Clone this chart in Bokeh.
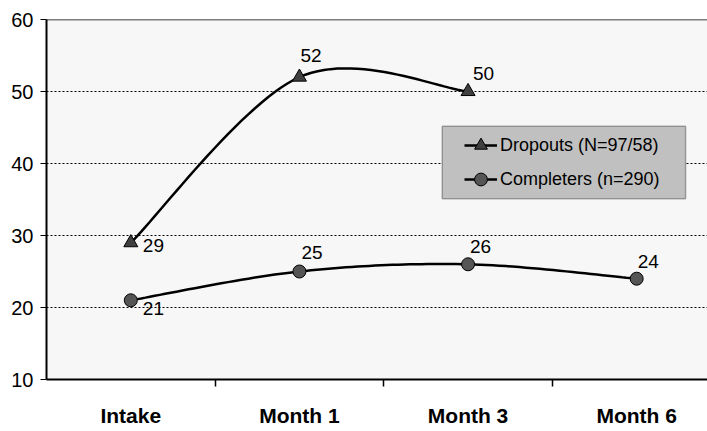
import numpy as np
from bokeh.plotting import figure
from bokeh.models import (FixedTicker, Range1d, Legend, LegendItem, Span,
                          BoxAnnotation, ColumnDataSource)
from bokeh.core.properties import value
from bokeh.embed import file_html
from bokeh.resources import INLINE

# ---- data ----
categories = ["Intake", "Month 1", "Month 3", "Month 6"]
dropouts = [29, 52, 50]
completers = [21, 25, 26, 24]
y_ticks = [10, 20, 30, 40, 50, 60]
dropouts_name = "Dropouts (N=97/58)"
completers_name = "Completers (n=290)"

# label offsets in screen pixels (layout, not data)
drop_dx = [12, 1, 5]
drop_dy = [3, -22, -18]
comp_dx = [12, 2, 2, 1]
comp_dy = [8, -19, -18, -17]

FONT = "Liberation Sans"


def smooth(ys, steps=30):
    """Excel-like Catmull-Rom smoothing between the given points."""
    y = np.asarray(ys, dtype=float)
    x = np.arange(len(y), dtype=float)
    n = len(y)
    mx = np.array([(x[min(i + 1, n - 1)] - x[max(i - 1, 0)]) / 2 for i in range(n)])
    my = np.array([(y[min(i + 1, n - 1)] - y[max(i - 1, 0)]) / 2 for i in range(n)])
    px, py = [], []
    t = np.linspace(0, 1, steps)
    h00 = 2 * t**3 - 3 * t**2 + 1
    h10 = t**3 - 2 * t**2 + t
    h01 = -2 * t**3 + 3 * t**2
    h11 = t**3 - t**2
    for i in range(n - 1):
        px.extend(h00 * x[i] + h10 * mx[i] + h01 * x[i + 1] + h11 * mx[i + 1])
        py.extend(h00 * y[i] + h10 * my[i] + h01 * y[i + 1] + h11 * my[i + 1])
    return px, py


p = figure(width=707, height=431,
           x_range=Range1d(-0.5, 3.42), y_range=Range1d(y_ticks[0], y_ticks[-1]),
           output_backend="svg", toolbar_location=None,
           min_border_left=46, min_border_right=0, min_border_top=19,
           min_border_bottom=52)
p.background_fill_color = "#F7F7F7"
p.border_fill_color = "white"
p.outline_line_color = None

# grid
p.xgrid.visible = False
p.ygrid.ticker = FixedTicker(ticks=y_ticks[1:-1])
p.ygrid.grid_line_color = "black"
p.ygrid.grid_line_dash = "2 2"
p.ygrid.grid_line_width = 1
p.add_layout(Span(location=y_ticks[-1], dimension="width",
                  line_color="black", line_width=1.5))

# y axis
yax = p.yaxis[0]
yax.ticker = FixedTicker(ticks=y_ticks)
yax.axis_line_width = 2
yax.axis_line_color = "black"
yax.major_tick_out = 6
yax.major_tick_in = 0
yax.major_tick_line_color = "black"
yax.minor_tick_line_color = None
yax.major_label_text_font = FONT
yax.major_label_text_font_size = "20px"
yax.major_label_text_color = "black"
yax.major_label_standoff = 7

# x axis
xax = p.xaxis[0]
xax.ticker = FixedTicker(ticks=list(range(len(categories))),
                         minor_ticks=[i + 0.5 for i in range(len(categories) - 1)])
xax.major_label_overrides = {i: c for i, c in enumerate(categories)}
xax.major_tick_line_color = None
xax.major_tick_out = 0
xax.major_tick_in = 0
xax.minor_tick_out = 7
xax.minor_tick_in = 0
xax.minor_tick_line_color = "black"
xax.minor_tick_line_width = 1.5
xax.axis_line_width = 2
xax.axis_line_color = "black"
xax.major_label_text_font = FONT
xax.major_label_text_font_style = "bold"
xax.major_label_text_font_size = "21px"
xax.major_label_text_color = "black"
xax.major_label_standoff = 17

# series
dx_, dy_ = smooth(dropouts)
cx_, cy_ = smooth(completers)
r_dl = p.line(dx_, dy_, line_color="black", line_width=2.5)
r_cl = p.line(cx_, cy_, line_color="black", line_width=2.5)

dsrc = ColumnDataSource(dict(x=list(range(len(dropouts))), y=dropouts,
                             t=[str(v) for v in dropouts], dx=drop_dx, dy=drop_dy))
csrc = ColumnDataSource(dict(x=list(range(len(completers))), y=completers,
                             t=[str(v) for v in completers], dx=comp_dx, dy=comp_dy))

r_dm = p.scatter("x", "y", source=dsrc, marker="triangle", size=14,
                 fill_color="#404040", line_color="black", line_width=1)
r_cm = p.scatter("x", "y", source=csrc, marker="circle", size=13,
                 fill_color="#555555", line_color="black", line_width=1)

for src in (dsrc, csrc):
    p.text("x", "y", text="t", source=src, x_offset="dx", y_offset="dy",
           text_align="left", text_baseline="middle",
           text_font=value(FONT), text_font_size="19px", text_color="black")

# legend box + legend
p.add_layout(BoxAnnotation(left=1.847, right=3.29, bottom=35.12, top=45.17,
                           fill_color="#C0C0C0", fill_alpha=1,
                           line_color="black", line_width=1.5))
legend = Legend(items=[LegendItem(label=dropouts_name, renderers=[r_dl, r_dm]),
                       LegendItem(label=completers_name, renderers=[r_cl, r_cm])],
                location=(418, 184), background_fill_alpha=0, border_line_color=None,
                padding=0, margin=0, spacing=2, glyph_width=33, glyph_height=32,
                label_height=24, label_standoff=3, label_text_font=FONT,
                label_text_font_size="18px", label_text_color="black")
p.add_layout(legend)

open("out.html", "w").write(file_html(p, INLINE))
